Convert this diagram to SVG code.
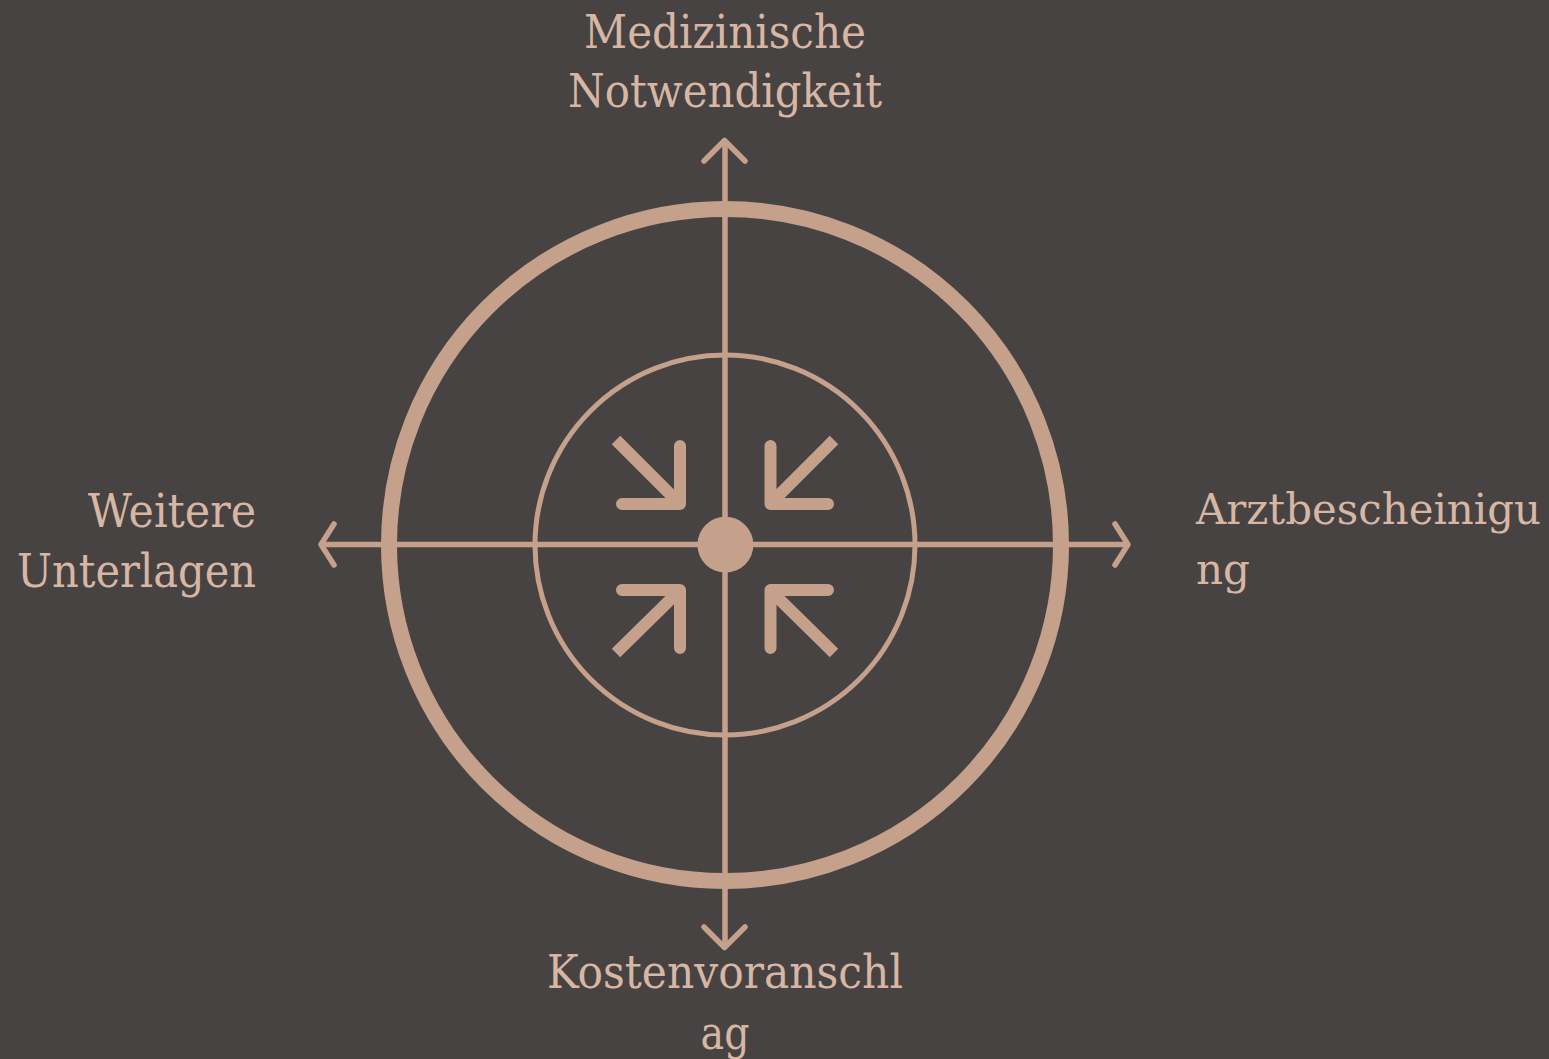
<svg xmlns="http://www.w3.org/2000/svg" width="1549" height="1059" viewBox="0 0 1549 1059">
<style>
.lbl{font-family:"DejaVu Serif","Liberation Serif",serif;font-size:46px;fill:#d7b6a4}
.lbl-r{font-size:42px}
.ax{stroke:#c5a08b;stroke-width:5.5;fill:none;stroke-linecap:round;stroke-linejoin:round}
.ar{stroke:#c5a08b;stroke-width:12;fill:none;stroke-linecap:round;stroke-linejoin:round}
.sh{stroke:#c5a08b;stroke-width:12;fill:none;stroke-linecap:butt}
</style>
<rect width="1549" height="1059" fill="#474342"/>
<g id="rings">
<circle cx="725" cy="545" r="336" fill="none" stroke="#c5a08b" stroke-width="16"/>
<circle cx="725" cy="545" r="190" fill="none" stroke="#c5a08b" stroke-width="5"/>
</g>
<g id="connectors">
<line class="ax" x1="725" y1="142" x2="725" y2="946"/>
<line class="ax" x1="322" y1="544.5" x2="1127" y2="544.5"/>
<polyline class="ax" points="704,161 724.5,140.5 745,161"/>
<polyline class="ax" points="704,927 724.5,947.5 745,927"/>
<polyline class="ax" points="334,524 321,544.5 334,565"/>
<polyline class="ax" points="1115,524 1128,544.5 1115,565"/>
</g>
<g id="center-icon">
<line class="sh" x1="616" y1="440" x2="676" y2="500"/>
<polyline class="ar" points="680,446 680,504 622,504"/>
<line class="sh" x1="834" y1="440" x2="774" y2="500"/>
<polyline class="ar" points="770.5,446 770.5,504 828,504"/>
<line class="sh" x1="616" y1="653" x2="676" y2="594"/>
<polyline class="ar" points="680,648 680,590 622,590"/>
<line class="sh" x1="834" y1="653" x2="774" y2="594"/>
<polyline class="ar" points="770.5,648 770.5,590 828,590"/>
<circle cx="725.4" cy="544.7" r="28" fill="#c5a08b"/>
</g>
<g id="node-top">
<text class="lbl" x="725" y="48" text-anchor="middle" textLength="282" lengthAdjust="spacingAndGlyphs">Medizinische</text>
<text class="lbl" x="725" y="107" text-anchor="middle" textLength="314" lengthAdjust="spacingAndGlyphs">Notwendigkeit</text>
</g>
<g id="node-right">
<text class="lbl lbl-r" x="1196" y="524" textLength="345" lengthAdjust="spacingAndGlyphs">Arztbescheinigu</text>
<text class="lbl lbl-r" x="1196" y="584" textLength="54" lengthAdjust="spacingAndGlyphs">ng</text>
</g>
<g id="node-bottom">
<text class="lbl" x="725" y="988" text-anchor="middle" textLength="356" lengthAdjust="spacingAndGlyphs">Kostenvoranschl</text>
<text class="lbl" x="725" y="1049" text-anchor="middle" textLength="49" lengthAdjust="spacingAndGlyphs">ag</text>
</g>
<g id="node-left">
<text class="lbl" x="256" y="527" text-anchor="end" textLength="168" lengthAdjust="spacingAndGlyphs">Weitere</text>
<text class="lbl" x="256" y="587" text-anchor="end" textLength="239" lengthAdjust="spacingAndGlyphs">Unterlagen</text>
</g>
</svg>
